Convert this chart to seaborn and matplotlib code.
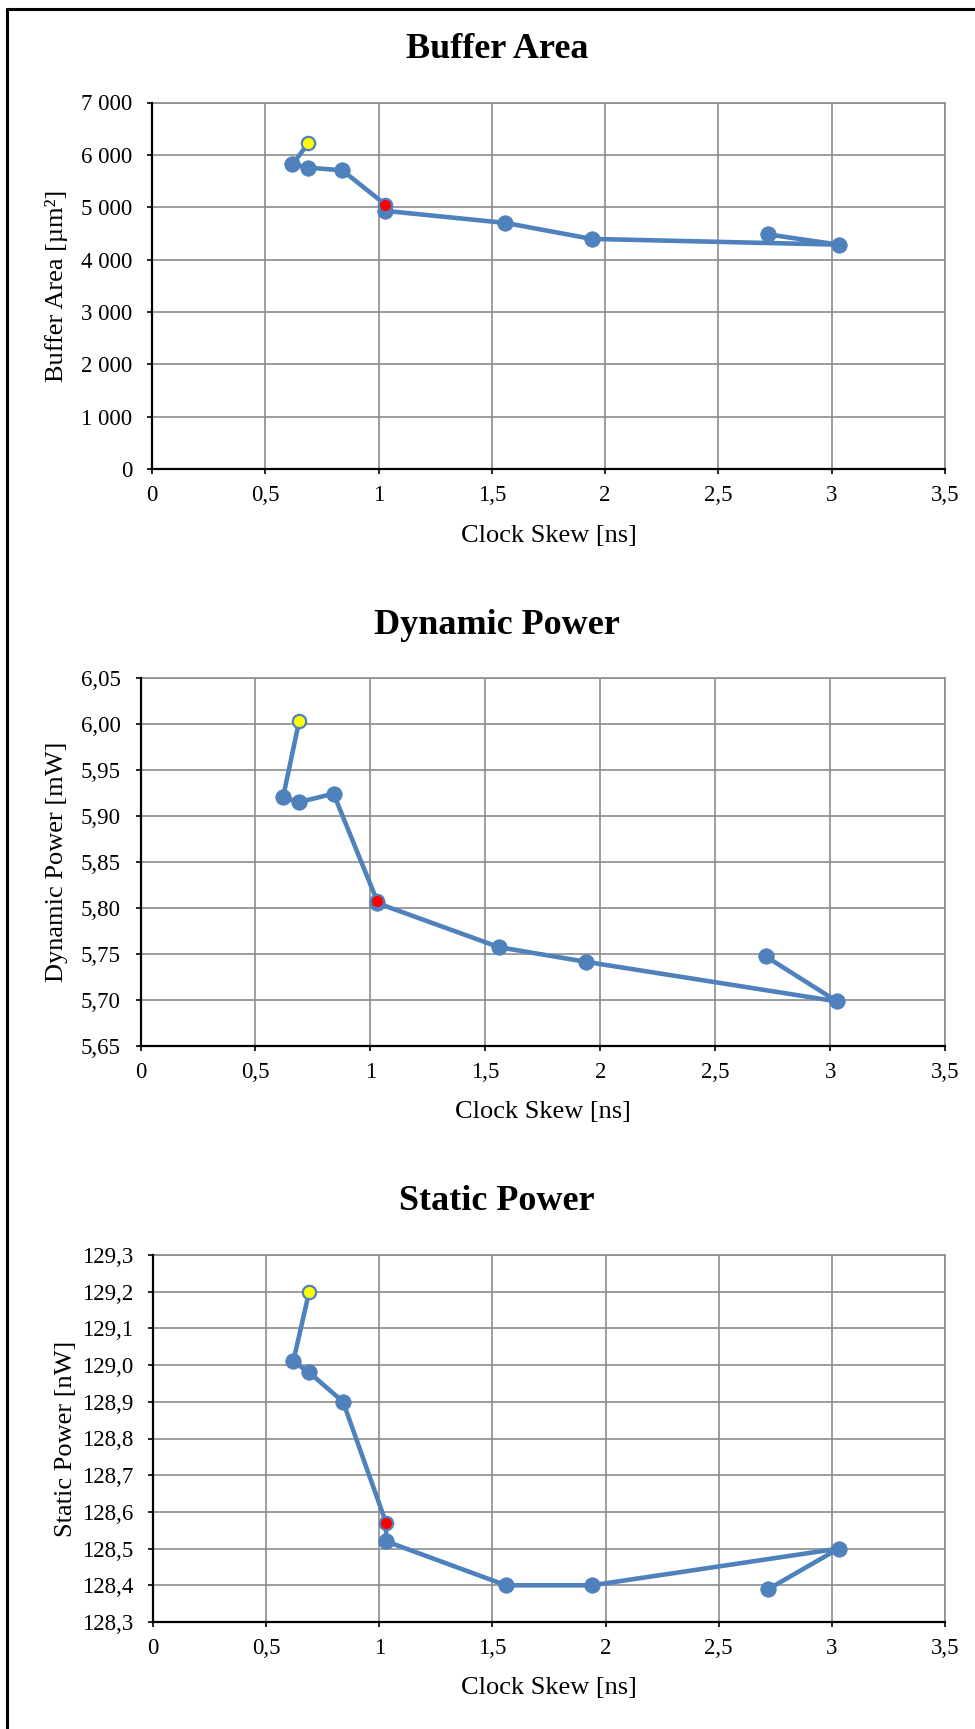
import numpy as np
import pandas as pd
import matplotlib
matplotlib.use("Agg")
import matplotlib.pyplot as plt
import seaborn as sns
from matplotlib.lines import Line2D
from matplotlib.ticker import FixedLocator, FuncFormatter

# ---- data ----
skew = [0.69, 0.62, 0.69, 0.84, 1.03, 1.03, 1.56, 1.94, 3.03, 2.72]
buffer_area = [6220, 5820, 5755, 5705, 5050, 4930, 4700, 4395, 4285, 4480]
dynamic_power = [6.003, 5.920, 5.915, 5.924, 5.807, 5.805, 5.757, 5.741, 5.698, 5.747]
static_power = [129.20, 129.01, 128.98, 128.90, 128.57, 128.52, 128.40, 128.40, 128.50, 128.39]
point_kind = ["yellow", "normal", "normal", "normal", "red", "normal", "normal", "normal", "normal", "normal"]

titles = ["Buffer Area", "Dynamic Power", "Static Power"]
ylabels = ["Buffer Area [µm²]", "Dynamic Power [mW]", "Static Power [nW]"]
xlabel = "Clock Skew [ns]"
x_ticks = [0, 0.5, 1, 1.5, 2, 2.5, 3, 3.5]
y_ticks_area = [0, 1000, 2000, 3000, 4000, 5000, 6000, 7000]
y_ticks_dyn = [5.65, 5.70, 5.75, 5.80, 5.85, 5.90, 5.95, 6.00, 6.05]
y_ticks_stat = [128.3, 128.4, 128.5, 128.6, 128.7, 128.8, 128.9, 129.0, 129.1, 129.2, 129.3]

sns.set_theme(style="white")
plt.rcParams["font.family"] = ["Liberation Serif", "DejaVu Serif"]

W, H = 975, 1729
fig = plt.figure(figsize=(W / 100, H / 100), dpi=100)
fig.patch.set_facecolor("white")

BLUE = "#4F81BD"
GRID = "#8C8C8C"

# pixel boxes: left, right, top, bottom
boxes = [(152, 945, 102.5, 469), (140.5, 945, 678, 1045.5), (153, 945, 1255, 1622)]
title_y = [50, 625, 1202]
xlabel_y = [536, 1112, 1688]
ylabel_x = [56, 57, 66]

def fmt_area(v, pos):
    return f"{int(round(v)):,}".replace(",", " ")

def fmt_dyn(v, pos):
    return f"{v:.2f}".replace(".", ",")

def fmt_stat(v, pos):
    return f"{v:.1f}".replace(".", ",")

def fmt_x(v, pos):
    s = f"{v:g}"
    return s.replace(".", ",")

series = [buffer_area, dynamic_power, static_power]
yticks = [y_ticks_area, y_ticks_dyn, y_ticks_stat]
fmts = [fmt_area, fmt_dyn, fmt_stat]

for i in range(3):
    l, r, t, b = boxes[i]
    ax = fig.add_axes([l / W, 1 - b / H, (r - l) / W, (b - t) / H])
    df = pd.DataFrame({"x": skew, "y": series[i], "kind": point_kind})
    sns.lineplot(data=df, x="x", y="y", sort=False, estimator=None, color=BLUE,
                 linewidth=3.3, ax=ax, zorder=3)
    normal = df[df["kind"] == "normal"]
    sns.scatterplot(data=normal, x="x", y="y", color=BLUE, s=125, edgecolor=BLUE,
                    linewidth=0.5, ax=ax, zorder=4, legend=False)
    for kind, col in [("yellow", "#FFFF00"), ("red", "#FF0000")]:
        sub = df[df["kind"] == kind]
        sns.scatterplot(data=sub, x="x", y="y", color=col, s=92, edgecolor=BLUE,
                        linewidth=1.6, ax=ax, zorder=5, legend=False)

    ax.set_xlim(0, 3.5)
    ax.set_ylim(yticks[i][0], yticks[i][-1])
    ax.xaxis.set_major_locator(FixedLocator(x_ticks))
    ax.yaxis.set_major_locator(FixedLocator(yticks[i]))
    ax.xaxis.set_major_formatter(FuncFormatter(fmt_x))
    ax.yaxis.set_major_formatter(FuncFormatter(fmts[i]))
    ax.grid(True, color=GRID, linewidth=1.2)
    ax.set_axisbelow(True)
    for side in ["top", "right"]:
        ax.spines[side].set_color(GRID)
        ax.spines[side].set_linewidth(1.2)
    for side in ["left", "bottom"]:
        ax.spines[side].set_color("black")
        ax.spines[side].set_linewidth(1.6)
        ax.spines[side].set_zorder(6)
    ax.tick_params(axis="both", which="major", direction="out", length=3.6, width=1.2,
                   color="black", labelsize=16.5, labelcolor="black")
    ax.tick_params(axis="x", pad=8, bottom=True)
    ax.tick_params(axis="y", pad=10.5, left=True)

    ax.set_xlabel(xlabel, fontsize=19, color="black")
    ax.set_ylabel(ylabels[i], fontsize=19, color="black")
    ax.xaxis.label.set_va("center")
    ax.yaxis.label.set_va("center")
    ax.xaxis.set_label_coords(0.5, (b - xlabel_y[i]) / (b - t))
    ax.yaxis.set_label_coords((ylabel_x[i] - l) / (r - l), 0.5)

    fig.text(497 / W, 1 - title_y[i] / H, titles[i], ha="center", va="center",
             fontsize=26, fontweight="bold", color="black")

# partial outer frame (top and left edges)
fig.add_artist(Line2D([7 / W, 1.0], [1 - 9 / H, 1 - 9 / H], transform=fig.transFigure,
                      color="black", linewidth=2.2))
fig.add_artist(Line2D([7 / W, 7 / W], [1 - 9 / H, 0.0], transform=fig.transFigure,
                      color="black", linewidth=2.2))

fig.savefig("out.png", dpi=100, facecolor="white")
